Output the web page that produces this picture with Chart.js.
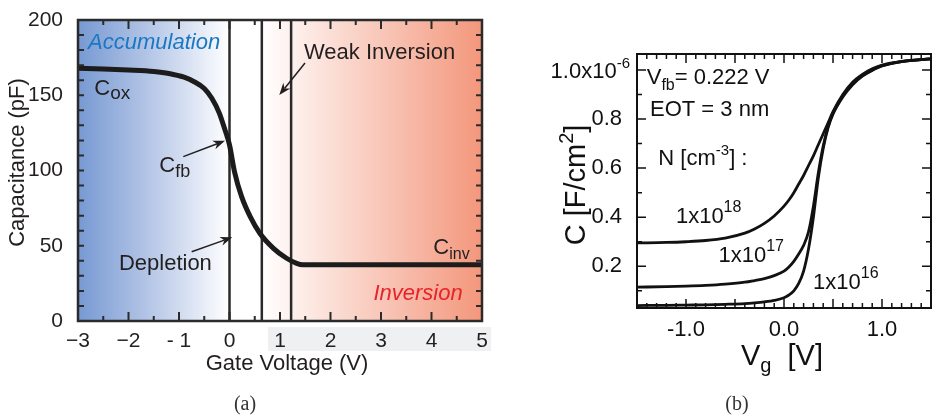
<!DOCTYPE html>
<html>
<head>
<meta charset="utf-8">
<script src="https://cdn.jsdelivr.net/npm/chart.js@4/dist/chart.umd.min.js"></script>
<style>
  body { margin: 0; background: #fff; }
  #wrap { position: relative; width: 933px; height: 415px; }
  canvas { position: absolute; top: 0; }
  #ca { left: 0; }
  #cb { left: 510px; }
</style>
</head>
<body>
<div id="wrap">
  <canvas id="ca" width="510" height="415"></canvas>
  <canvas id="cb" width="423" height="415"></canvas>
</div>
<script>
const SANS = "'Liberation Sans', Arial, sans-serif";
const SERIF = "'Liberation Serif', 'DejaVu Serif', serif";
const INK = "#231f20";

// ---- panel (a): C-V curve of a MOS capacitor
const gateV = [-3, -2.5, -2, -1.5, -1.2, -0.9, -0.7, -0.5, -0.35, -0.2, -0.1, 0, 0.1, 0.24, 0.41, 0.6, 0.87, 1.13, 1.33, 1.45, 2, 3, 4, 5];
const capPF = [168, 167.5, 166.8, 165.8, 164.5, 162, 159, 154.5, 148, 138, 128, 117, 99, 82.6, 69.3, 58.3, 48.3, 41.7, 38.3, 37.4, 37.4, 37.4, 37.4, 37.4];
const regionEdges = [0, 0.64, 1.22];
const xTicksA = [-3, -2, -1, 0, 1, 2, 3, 4, 5];
const xLabelsA = ["\u22123", "\u22122", "- 1", "0", "1", "2", "3", "4", "5"];
const yTicksA = [0, 50, 100, 150, 200];

// ---- panel (b): simulated C-V for three doping levels
const vg = [-1.5, -1.2, -1.0, -0.8, -0.6, -0.4, -0.3, -0.2, -0.1, 0.0, 0.05, 0.1, 0.15, 0.2, 0.25, 0.3, 0.35, 0.4, 0.45, 0.5, 0.6, 0.7, 0.8, 0.9, 1.0, 1.2, 1.5];
const c1e18 = [0.295, 0.297, 0.30, 0.305, 0.315, 0.335, 0.352, 0.375, 0.405, 0.445, 0.47, 0.50, 0.535, 0.57, 0.61, 0.65, 0.695, 0.74, 0.785, 0.83, 0.90, 0.95, 0.982, 1.005, 1.02, 1.035, 1.045];
const c1e17 = [0.115, 0.117, 0.119, 0.122, 0.127, 0.135, 0.142, 0.15, 0.162, 0.18, 0.197, 0.22, 0.25, 0.285, 0.34, 0.445, 0.58, 0.69, 0.77, 0.825, 0.895, 0.945, 0.978, 1.0, 1.017, 1.034, 1.045];
const c1e16 = [0.04, 0.041, 0.042, 0.043, 0.045, 0.048, 0.051, 0.055, 0.061, 0.072, 0.083, 0.10, 0.13, 0.18, 0.27, 0.40, 0.56, 0.68, 0.765, 0.82, 0.89, 0.94, 0.975, 0.998, 1.016, 1.034, 1.045];
const xTicksB = [-1, 0, 1];
const xLabelsB = ["-1.0", "0.0", "1.0"];
const yTicksB = [0.2, 0.4, 0.6, 0.8, 1.0];
const yLabelsB = ["0.2", "0.4", "0.6", "0.8", ""];

// text with sub/superscripts: parts = [text, size, dy]
function rich(ctx, parts, x, y, align, style) {
  style = style || "";
  let w = 0;
  parts.forEach(p => { ctx.font = style + p[1] + "px " + SANS; w += ctx.measureText(p[0]).width; });
  let cx = align === "center" ? x - w / 2 : align === "right" ? x - w : x;
  ctx.textAlign = "left";
  ctx.textBaseline = "alphabetic";
  parts.forEach(p => {
    ctx.font = style + p[1] + "px " + SANS;
    ctx.fillText(p[0], cx, y + (p[2] || 0));
    cx += ctx.measureText(p[0]).width;
  });
}

function arrow(ctx, x1, y1, x2, y2) {
  const a = Math.atan2(y2 - y1, x2 - x1), L = 12, W = 4.5;
  const c = Math.cos(a), s = Math.sin(a);
  ctx.beginPath();
  ctx.moveTo(x1, y1);
  ctx.lineTo(x2 - L * 0.7 * c, y2 - L * 0.7 * s);
  ctx.stroke();
  ctx.beginPath();
  ctx.moveTo(x2, y2);
  ctx.lineTo(x2 - L * c + W * s, y2 - L * s - W * c);
  ctx.lineTo(x2 - L * 0.7 * c, y2 - L * 0.7 * s);
  ctx.lineTo(x2 - L * c - W * s, y2 - L * s + W * c);
  ctx.closePath();
  ctx.fill();
}

// inward ticks on all four sides
function frameTicks(ctx, area, x, y, xs, ys) {
  ctx.beginPath();
  xs.forEach(([v, len]) => {
    const px = x.getPixelForValue(v);
    ctx.moveTo(px, area.bottom); ctx.lineTo(px, area.bottom - len);
    ctx.moveTo(px, area.top); ctx.lineTo(px, area.top + len);
  });
  ys.forEach(([v, len]) => {
    const py = y.getPixelForValue(v);
    ctx.moveTo(area.left, py); ctx.lineTo(area.left + len, py);
    ctx.moveTo(area.right, py); ctx.lineTo(area.right - len, py);
  });
  ctx.stroke();
}

function steps(from, to, step) {
  const out = [];
  for (let i = 0; from + i * step <= to + 1e-9; i++) out.push(+(from + i * step).toFixed(4));
  return out;
}

const panelA = {
  id: "panelA",
  beforeDraw(chart) {
    const { ctx, chartArea: a, scales: { x } } = chart;
    ctx.save();
    // light strip behind the right tick labels
    const s0 = x.getPixelForValue(0.76), s1 = x.getPixelForValue(5.18);
    ctx.fillStyle = "#eff0f2";
    ctx.fillRect(s0, a.bottom + 6, s1 - s0, 24);
    // accumulation shading
    const x0 = x.getPixelForValue(-3), x1 = x.getPixelForValue(regionEdges[0]);
    let g = ctx.createLinearGradient(x0, 0, x1, 0);
    g.addColorStop(0, "#7799d2");
    g.addColorStop(0.5, "#b9c9e8");
    g.addColorStop(1, "#ffffff");
    ctx.fillStyle = g;
    ctx.fillRect(x0, a.top, x1 - x0, a.bottom - a.top);
    // inversion shading
    const x2 = x.getPixelForValue(regionEdges[1]), x3 = x.getPixelForValue(5);
    g = ctx.createLinearGradient(x2, 0, x3, 0);
    g.addColorStop(0, "#ffffff");
    g.addColorStop(1, "#f3977c");
    ctx.fillStyle = g;
    ctx.fillRect(x2, a.top, x3 - x2, a.bottom - a.top);
    ctx.restore();
  },
  afterDraw(chart) {
    const { ctx, chartArea: a, scales: { x, y } } = chart;
    const X = v => x.getPixelForValue(v), Y = v => y.getPixelForValue(v);
    ctx.save();
    ctx.strokeStyle = "#2b2b2b";
    ctx.lineWidth = 2;
    frameTicks(ctx, a, x, y,
      steps(-3, 5, 0.5).map(v => [v, Number.isInteger(v) ? 9 : 5]),
      steps(0, 200, 10).map(v => [v, 6]));
    ctx.lineWidth = 2.5;
    ctx.strokeRect(a.left, a.top, a.right - a.left, a.bottom - a.top);

    ctx.fillStyle = INK;
    ctx.font = "22px " + SANS;
    ctx.textAlign = "center";
    ctx.textBaseline = "alphabetic";
    ctx.fillText("Gate Voltage (V)", 287, 370);
    ctx.save();
    ctx.translate(24, 162.5);
    ctx.rotate(-Math.PI / 2);
    ctx.fillText("Capacitance (pF)", 0, 0);
    ctx.restore();

    ctx.textAlign = "left";
    ctx.fillStyle = "#1a78c2";
    ctx.font = "italic 22px " + SANS;
    ctx.fillText("Accumulation", X(-2.8), Y(180.5));
    ctx.fillStyle = "#e8232b";
    ctx.fillText("Inversion", X(2.85), Y(14));

    ctx.fillStyle = INK;
    ctx.font = "22px " + SANS;
    ctx.fillText("Weak Inversion", X(1.475), Y(173.9));
    ctx.fillText("Depletion", X(-2.19), Y(33.9));
    rich(ctx, [["C", 22], ["ox", 19, 4]], X(-2.677), Y(150.2), "left");
    rich(ctx, [["C", 22], ["fb", 18, 5]], X(-1.39), Y(99.2), "left");
    rich(ctx, [["C", 22], ["inv", 16, 5]], X(4.036), Y(44.5), "left");

    ctx.strokeStyle = INK;
    ctx.lineWidth = 1.5;
    arrow(ctx, X(1.495), Y(171.4), X(0.986), Y(150.2));
    arrow(ctx, X(-0.915), Y(109.2), X(-0.089), Y(119.8));
    arrow(ctx, X(-0.749), Y(46), X(0.055), Y(55.6));

    ctx.fillStyle = "#333";
    ctx.font = "20px " + SERIF;
    ctx.textAlign = "center";
    ctx.fillText("(a)", 245, 410);
    ctx.restore();
  }
};

const panelB = {
  id: "panelB",
  afterDraw(chart) {
    const { ctx, chartArea: a, scales: { x, y } } = chart;
    const X = v => x.getPixelForValue(v), Y = v => y.getPixelForValue(v);
    ctx.save();
    ctx.strokeStyle = "#111";
    ctx.lineWidth = 1.5;
    frameTicks(ctx, a, x, y,
      steps(-1.5, 1.5, 0.1).map(v => [v, Math.abs(v * 2 - Math.round(v * 2)) < 1e-6 ? 9 : 5]),
      steps(0.1, 1.0, 0.1).map(v => [v, Math.abs(v * 5 - Math.round(v * 5)) < 1e-6 ? 9 : 5]));
    ctx.lineWidth = 2;
    ctx.strokeRect(a.left, a.top, a.right - a.left, a.bottom - a.top);

    ctx.fillStyle = "#111";
    rich(ctx, [["1.0x10", 22], ["-6", 15, -10]], a.left - 7, Y(1.0) + 8, "right");

    rich(ctx, [["V", 22], ["fb", 16, 6], ["= 0.222 V", 22]], X(-1.401), Y(0.941), "left");
    rich(ctx, [["EOT = 3 nm", 22]], X(-1.367), Y(0.812), "left");
    rich(ctx, [["N [cm", 22], ["-3", 15, -10], ["] :", 22]], X(-1.282), Y(0.612), "left");
    rich(ctx, [["1x10", 22], ["18", 16, -11]], X(-1.103), Y(0.377), "left");
    rich(ctx, [["1x10", 22], ["17", 16, -11]], X(-0.669), Y(0.216), "left");
    rich(ctx, [["1x10", 22], ["16", 16, -11]], X(0.297), Y(0.109), "left");

    rich(ctx, [["V", 29], ["g", 20, 7], ["  [V]", 29]], 272, 365, "center");
    ctx.save();
    ctx.translate(75, 185);
    ctx.rotate(-Math.PI / 2);
    rich(ctx, [["C [F/cm", 29], ["2", 20, -12], ["]", 29]], 0, 0, "center");
    ctx.restore();

    ctx.fillStyle = "#333";
    ctx.font = "20px " + SERIF;
    ctx.textAlign = "center";
    ctx.textBaseline = "alphabetic";
    ctx.fillText("(b)", 227, 410);
    ctx.restore();
  }
};

const pts = (xs, ys) => xs.map((v, i) => ({ x: v, y: ys[i] }));

new Chart(document.getElementById("ca"), {
  type: "line",
  data: {
    datasets: [
      { data: pts(gateV, capPF), borderColor: "#1c1c1c", borderWidth: 5, pointRadius: 0, cubicInterpolationMode: "monotone" },
      ...regionEdges.map(v => ({ data: [{ x: v, y: 0 }, { x: v, y: 200 }], borderColor: "#2a2a2a", borderWidth: 2.5, pointRadius: 0 }))
    ]
  },
  options: {
    responsive: false,
    animation: false,
    events: [],
    layout: { padding: { left: 0, top: 20, right: 28, bottom: 0 } },
    plugins: { legend: { display: false }, tooltip: { enabled: false } },
    scales: {
      x: {
        type: "linear", min: -3, max: 5,
        grid: { display: false }, border: { display: false },
        afterBuildTicks: s => { s.ticks = xTicksA.map(v => ({ value: v })); },
        afterFit: s => { s.height = 94; },
        ticks: { padding: 0, color: INK, font: { family: SANS, size: 21 }, maxRotation: 0, callback: v => xLabelsA[xTicksA.indexOf(v)] }
      },
      y: {
        type: "linear", min: 0, max: 200,
        grid: { display: false }, border: { display: false },
        afterBuildTicks: s => { s.ticks = yTicksA.map(v => ({ value: v })); },
        afterFit: s => { s.width = 78; },
        ticks: { padding: 7, color: INK, font: { family: SANS, size: 21 } }
      }
    }
  },
  plugins: [panelA]
});

new Chart(document.getElementById("cb"), {
  type: "line",
  data: {
    datasets: [c1e18, c1e17, c1e16].map(c => ({
      data: pts(vg, c), borderColor: "#111", borderWidth: 2.8, pointRadius: 0, cubicInterpolationMode: "monotone"
    }))
  },
  options: {
    responsive: false,
    animation: false,
    events: [],
    layout: { padding: { left: 0, top: 54, right: 2, bottom: 0 } },
    plugins: { legend: { display: false }, tooltip: { enabled: false } },
    scales: {
      x: {
        type: "linear", min: -1.5, max: 1.5,
        grid: { display: false }, border: { display: false },
        afterBuildTicks: s => { s.ticks = xTicksB.map(v => ({ value: v })); },
        afterFit: s => { s.height = 107; },
        ticks: { padding: 1, color: "#111", font: { family: SANS, size: 22 }, maxRotation: 0, callback: v => xLabelsB[xTicksB.indexOf(v)] }
      },
      y: {
        type: "linear", min: 0.03, max: 1.065,
        grid: { display: false }, border: { display: false },
        afterBuildTicks: s => { s.ticks = yTicksB.map(v => ({ value: v })); },
        afterFit: s => { s.width = 127; },
        ticks: { padding: 7, color: "#111", font: { family: SANS, size: 22 }, callback: v => yLabelsB[yTicksB.indexOf(v)] }
      }
    }
  },
  plugins: [panelB]
});
</script>
</body>
</html>
